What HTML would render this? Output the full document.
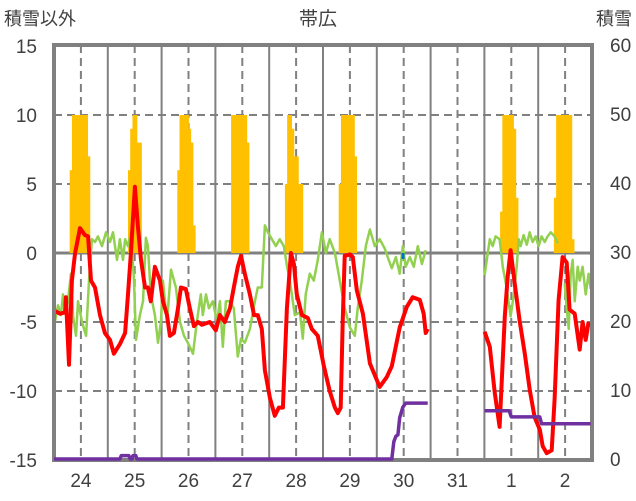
<!DOCTYPE html>
<html><head><meta charset="utf-8">
<style>
html,body{margin:0;padding:0;background:#fff;}
svg{display:block;font-family:"Liberation Sans","Noto Sans CJK JP",sans-serif;}
</style></head>
<body>
<svg id="chart" width="636" height="501" viewBox="0 0 636 501">
  <text x="318" y="25" font-size="19" fill="#404040" text-anchor="middle">帯広</text>
  <text x="4" y="25" font-size="18" fill="#404040">積雪以外</text>
  <text x="632" y="25" font-size="18" fill="#404040" text-anchor="end">積雪</text>
  <g id="grid"></g>
  <g id="bars"></g>
  <g id="lines"></g>
  <rect x="54" y="45" width="538" height="415" fill="none" stroke="#808080" stroke-width="4"/>
  <g id="snow"></g>
  <g id="axes"></g>
</svg>
<script>
// ---- data ----
const dayLabels = ["24","25","26","27","28","29","30","31","1","2"];
const leftTicks = [15,10,5,0,-5,-10,-15];
const rightTicks = [60,50,40,30,20,10,0];
// sunshine bars: start hour of each day, then hourly values (left-axis units)
const sunStart = [7,9,7,7,7,7,null,null,7,7];
const sunValues = [
  [6,10,10,10,10,10,10,10,7],
  [6,9,10,10,8,8],
  [6,10,10,10,10,9,8,2],
  [10,10,10,10,10,10,10,8],
  [5,10,10,9,7,7,5,5],
  [5,10,10,10,10,10,10,7],
  [],
  [],
  [3,10,10,10,10,10,9,4],
  [4,10,10,10,10,10,10,10,1]
];
// temperature (red), hours since 24th 00:00
const tempHours = [0.4,2.7,4.9,5.3,6.7,8.0,9.4,11.6,13.8,15.2,16.5,18.3,20.5,22.7,25.0,26.7,29.4,31.7,33.0,34.3,36.1,37.4,38.8,40.6,41.9,43.2,45.0,47.3,48.6,50.4,51.7,53.5,55.3,56.6,58.8,60.6,62.4,64.2,66.0,69.5,72.2,74.0,76.2,78.5,80.2,82.0,83.4,85.1,87.4,89.2,90.9,92.7,94.1,96.3,98.5,100.3,102.1,103.9,105.7,107.0,108.3,110.6,113.2,115.0,117.7,120.4,123.0,125.3,126.6,127.9,128.8,129.7,132.0,133.3,135.1,137.8,140.9,144.0,145.3,148.4,150.7,154.2,157.4,160.0,163.2,164.9,165.8,166.7,180,192.1,194.4,196.6,198.8,201.1,202.4,203.7,205.5,207.7,210.0,212.2,214.4,216.7,218.0,219.8,222.0,223.3,225.1,226.9,228.7,230.0,232.3,234.5,235.8,237.2,238.5];
const tempValues = [-4.2,-4.4,-4.3,-3.2,-8.1,-2,0,1.8,1.3,1.2,-2,-2.5,-4.5,-5.8,-6.3,-7.3,-6.6,-5.8,-3,0,4.8,2,-0.5,-2.5,-2.5,-3.5,-1,-2,-3.5,-4.5,-6,-5.8,-4,-2.5,-2.6,-4,-5.3,-5,-5.2,-5,-5.6,-4.5,-5,-4,-2.5,-1,-0.2,-1.5,-3,-4.5,-4.5,-5.5,-8.5,-10.5,-11.8,-11.2,-11.2,-4,0,-0.8,-3,-4.5,-4.7,-5.5,-6,-8.2,-10,-11.2,-11.6,-11.2,-5,-0.2,-0.1,-0.3,-2.7,-4.4,-8,-9.2,-9.7,-9,-8.2,-5.4,-3.9,-3.2,-3.4,-4.4,-5.8,-5.5,null,-5.7,-6.8,-10.1,-12.6,-4.6,-1.7,0.2,-2.2,-4.9,-7.3,-9.9,-11.9,-12.8,-14,-14.5,-14.3,-10.6,-3.4,-0.3,-0.7,-4.1,-4.4,-7,-5,-6.3,-5];
// green series
const greenHours = [0.4,1.8,3.1,4.0,5.3,6.2,7.6,8.5,9.8,10.7,12.5,14.3,15.6,16.9,18.3,19.6,21.4,23.2,25.0,26.3,28.1,29.4,30.8,31.7,33.0,34.3,35.7,36.6,38.3,39.7,41.0,41.9,43.2,45.0,46.4,47.7,48.6,49.5,50.4,52.2,54.4,56.2,58.0,59.7,62.0,63.7,65.5,66.4,67.8,69.1,70.9,72.7,74.0,75.3,76.7,78.5,80.2,82.0,83.4,85.1,87.4,89.6,90.9,92.7,94.1,95.4,97.2,99.0,100.7,102.5,103.9,105.2,107.4,109.7,111.0,112.3,114.1,115.9,117.7,119.5,121.3,123.0,125.3,127.5,129.7,132.0,134.2,135.5,137.3,139.1,140.9,143.1,145.3,147.6,149.3,150.7,152.5,154.2,155.6,156.9,158.7,160.5,162.3,164.1,165.8,180,192.1,193.5,194.4,195.7,197.0,198.8,200.2,201.9,203.7,205.1,206.4,207.3,208.2,209.5,210.9,212.2,213.5,214.9,216.2,217.5,218.9,220.2,221.6,223.3,224.7,226,227.8,228.7,229.6,230.5,231.4,232.3,233.6,234.5,235.8,237.2,238.5,239.4];
const greenValues = [-5,-3.8,-4.5,-3,-4.5,-3.5,-1.5,-4.6,-6,-3.5,-5,-6,-2,1,0.8,1.2,0.5,1.5,0.8,1.5,-0.5,1,-0.5,1,0.5,1.5,-2,-6.3,-4.5,-3.5,1.1,0.5,-3,-4.5,-6.5,-5,-2,-3.5,-5,-1.2,-2.5,-5,-6,-6.5,-7.3,-5,-3,-4.5,-3,-4,-3.5,-5,-3.5,-6.8,-3.5,-3.5,-4,-7.5,-6.2,-6.5,-5.5,-3.5,-2.5,-2.5,2,1.5,1,0.5,1,0.5,-0.9,-2,-4.5,-4.3,-6.2,-3,-1.5,-2,-0.5,1.5,0,1,0,-2,-4,-5.4,-6,-4,-2,0.5,1.7,0.5,1,0.3,-0.5,-1.1,-0.3,-1.5,0.5,-1,-0.3,-1,0.5,-0.8,0.2,null,-1.6,0,1,0.5,1.2,1,-1,-2.5,-4.6,-3,-1,1,0.5,1.3,0.6,1.5,0.8,1.2,0.5,1.2,0.8,1.2,1.5,1.2,0.7,null,-2.2,-4,-5.5,-1.5,-0.5,-3.5,-1,-2,-1,-3,-1.5,-2.6];
// snow depth (purple, right axis cm)
const snowHours = [0,29.4,30,33.4,34,34.8,35.2,36.5,37,150.7,151.6,152.5,153.4,154.2,155.6,156.9,166.7,180,192.1,203.0,204,216.7,217.5,239.4];
const snowValues = [0,0,0.5,0.5,0,0,0.5,0.5,0,0,2.5,3.3,3.5,6,7.5,8.1,8.1,null,7,7,6.1,6.1,5.1,5.1];

// ---- scales ----
const X0=54, HW=538/240;
const xH = h => X0 + h*HW;
const yL = v => 253 - v*13.8;
const yR = v => 459 - v*(414/60);
const NS="http://www.w3.org/2000/svg";
function mk(tag, parent, attrs){const e=document.createElementNS(NS,tag);for(const k in attrs)e.setAttribute(k,attrs[k]);parent.appendChild(e);return e;}

const grid=document.getElementById('grid');
leftTicks.forEach(v=>{
  if(v===15||v===-15) return;
  const l=mk('line',grid,{x1:54,x2:592,y1:yL(v),y2:yL(v),stroke:'#808080','stroke-width':v===0?3:2,'stroke-dasharray':v===0?'none':'8,5'});
  
  
});
dayLabels.forEach((d,i)=>{
  if(i>0){
    const s=mk('line',grid,{x1:xH(i*24),x2:xH(i*24),y1:45,y2:460,stroke:'#808080','stroke-width':2});
    
    
  }
  const n=mk('line',grid,{x1:xH(i*24+12),x2:xH(i*24+12),y1:45,y2:460,stroke:'#808080','stroke-width':2,'stroke-dasharray':'8,5'});
  
  
});

const bars=document.getElementById('bars');
sunValues.forEach((vals,di)=>{
  vals.forEach((v,k)=>{
    const h=di*24+sunStart[di]+k;
    const r=mk('rect',bars,{x:xH(h),y:yL(v),width:HW+0.4,height:yL(0)-yL(v),fill:'#FFC000'});
    
    
  });
});

function path(hours, vals, yf){
  let d='',pen=false;
  hours.forEach((h,i)=>{const v=vals[i];if(v===null){pen=false;return;}d+=(pen?'L':'M')+xH(h).toFixed(1)+','+yf(v).toFixed(1);pen=true;});
  return d;
}
const lines=document.getElementById('lines');
const g=mk('path',lines,{d:path(greenHours,greenValues,yL),fill:'none',stroke:'#92D050','stroke-width':2.5,'stroke-linejoin':'round'});


const t=mk('path',lines,{d:path(tempHours,tempValues,yL),fill:'none',stroke:'#FF0000','stroke-width':4,'stroke-linejoin':'round'});


const b=mk('rect',lines,{x:401.5,y:253,width:3,height:6,fill:'#0070C0'});


const snowG=document.getElementById('snow');
const s=mk('path',snowG,{d:path(snowHours,snowValues,yR),fill:'none',stroke:'#7030A0','stroke-width':3.5,'stroke-linejoin':'round'});



const axes=document.getElementById('axes');
leftTicks.forEach(v=>{
  const e=mk('text',axes,{x:37,y:yL(v)+7,'font-size':19,fill:'#404040','text-anchor':'end'});e.textContent=String(v);
  
  
});
rightTicks.forEach(v=>{
  const e=mk('text',axes,{x:610,y:yR(v)+7,'font-size':19,fill:'#404040'});e.textContent=String(v);
  
  
});
dayLabels.forEach((d,i)=>{
  const e=mk('text',axes,{x:xH(i*24+12),y:487,'font-size':19,fill:'#404040','text-anchor':'middle'});e.textContent=d;
  
  
});
</script>
</body></html>
